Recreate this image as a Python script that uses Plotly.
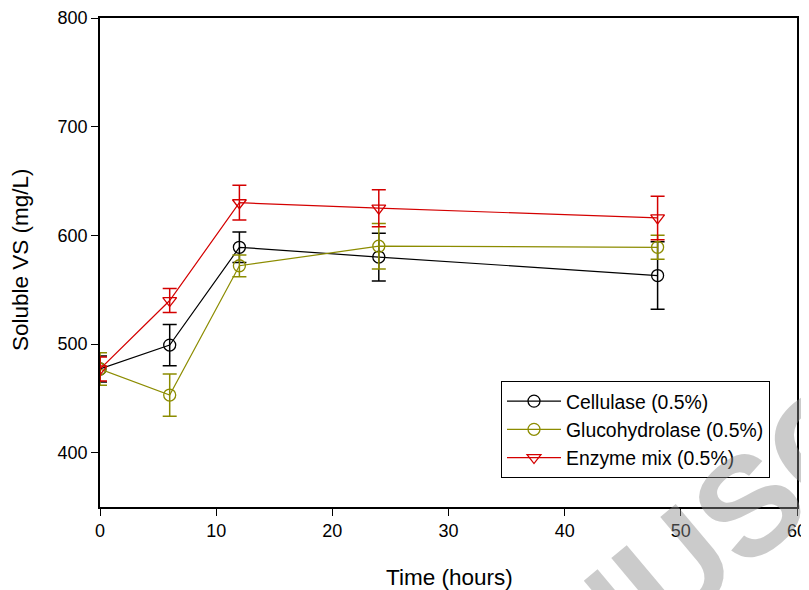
import plotly.graph_objects as go

time_h = [0, 6, 12, 24, 48]

cellulase = [477, 499, 589, 580, 563]
cellulase_err = [12, 19, 14, 22, 31]

glucohydrolase = [477, 453, 572, 590, 589]
glucohydrolase_err = [15, 19.5, 10, 21, 11]

enzyme_mix = [477, 540, 630, 625, 616]
enzyme_mix_err = [11, 11, 16, 17, 20]

x_ticks = [0, 10, 20, 30, 40, 50, 60]
y_ticks = [400, 500, 600, 700, 800]

FONT = "Liberation Sans, Arial, Helvetica, sans-serif"

series = [
    ("Cellulase (0.5%)", cellulase, cellulase_err, "#000000", "circle-open"),
    ("Glucohydrolase (0.5%)", glucohydrolase, glucohydrolase_err, "#8c8c00", "circle-open"),
    ("Enzyme mix (0.5%)", enzyme_mix, enzyme_mix_err, "#d40000", "triangle-down-open"),
]

fig = go.Figure()
for name, vals, errs, color, sym in series:
    fig.add_trace(go.Scatter(
        x=time_h, y=vals, name=name, mode="lines+markers",
        line=dict(color=color, width=1.2),
        marker=dict(symbol=sym, size=12, color=color, line=dict(width=1.3, color=color)),
        error_y=dict(type="data", array=errs, visible=True, color=color,
                     thickness=1.5, width=7),
    ))

# page body has an 8px default margin, so work in (reference px - 8)
OFF = 8
W, H = 809 - OFF, 590 - OFF
L, T = 100 - OFF, 18 - OFF
PR, PB = 797 - OFF, 507 - OFF
R, B = W - PR, H - PB
pw, ph = PR - L, PB - T


def px(x):
    return (x - OFF - L) / pw


def py(y):
    return (PB - (y - OFF)) / ph


fig.update_layout(
    width=W, height=H,
    margin=dict(l=L, r=R, t=T, b=B),
    paper_bgcolor="white", plot_bgcolor="white",
    font=dict(family=FONT, size=18, color="black"),
    showlegend=True,
    legend=dict(
        x=px(501), y=py(381), xanchor="left", yanchor="top",
        bgcolor="white", bordercolor="black", borderwidth=1,
        font=dict(family=FONT, size=19.4, color="black"),
        tracegroupgap=0, itemwidth=54,
    ),
    xaxis=dict(
        range=[0, 60], tickvals=x_ticks, ticks="outside", ticklen=7,
        tickcolor="black", showline=True, linecolor="black", linewidth=1.5,
        mirror=True, showgrid=False, zeroline=False, automargin=False,
        tickfont=dict(size=18),
    ),
    yaxis=dict(
        range=[350, 800], tickvals=y_ticks, ticks="outside", ticklen=7,
        tickcolor="black", showline=True, linecolor="black", linewidth=1.5,
        mirror=True, showgrid=False, zeroline=False, automargin=False,
        tickfont=dict(size=18),
    ),
)

# axis titles placed at the reference's positions
fig.add_annotation(text="Time (hours)", x=px(449), y=py(577),
                   xref="paper", yref="paper", showarrow=False,
                   xanchor="center", yanchor="middle", font=dict(size=22.5))
fig.add_annotation(text="Soluble VS (mg/L)", x=px(21), y=py(260),
                   xref="paper", yref="paper", showarrow=False, textangle=-90,
                   xanchor="center", yanchor="middle", font=dict(size=22.5))

fig.add_annotation(
    text="<b>MANUSCRIPT</b>", x=px(748), y=py(505),
    xref="paper", yref="paper",
    showarrow=False, textangle=-40,
    font=dict(family=FONT, size=140, color="rgba(140,140,140,0.45)"),
    xanchor="center", yanchor="middle",
)

fig.write_html("out.html")
